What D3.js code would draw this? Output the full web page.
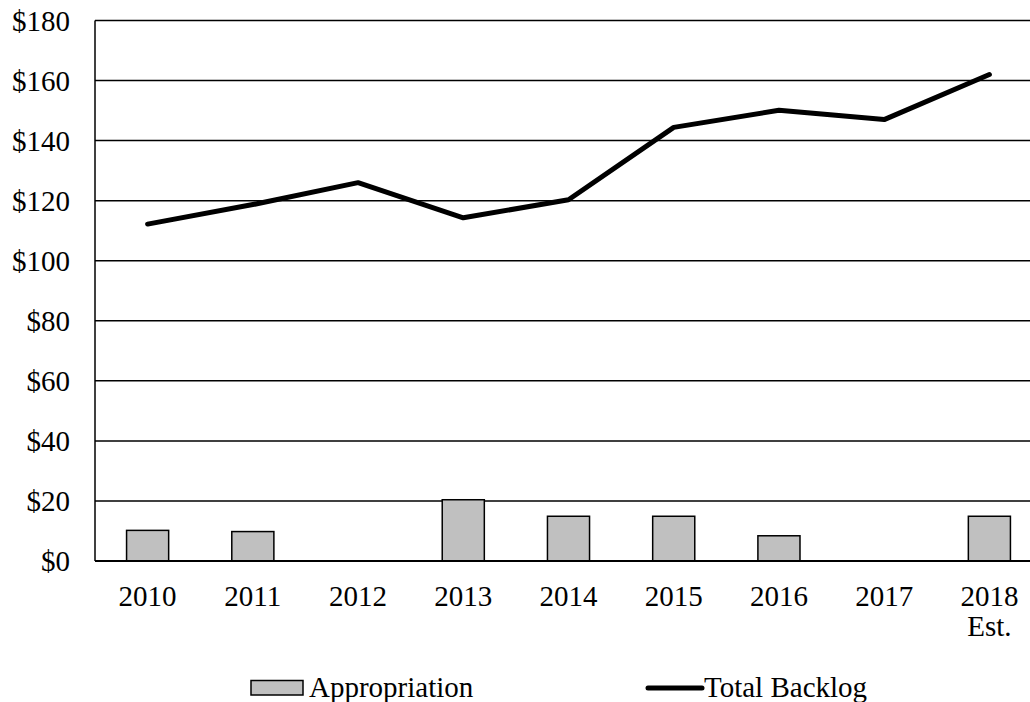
<!DOCTYPE html>
<html>
<head>
<meta charset="utf-8">
<script src="https://cdn.jsdelivr.net/npm/d3@7/dist/d3.min.js"></script>
<style>
  body { margin: 0; background: #fff; }
  text { font-family: "Liberation Serif", "Times New Roman", serif; fill: #000; }
</style>
</head>
<body>
<div id="chart"></div>
<script>
var years = ["2010", "2011", "2012", "2013", "2014", "2015", "2016", "2017", "2018"];
var yearNotes = ["", "", "", "", "", "", "", "", "Est."];
var appropriation = [10.2, 9.8, 0, 20.4, 14.9, 14.9, 8.4, 0, 14.9];
var backlog = [112.2, 118.7, 126, 114.3, 120.3, 144.4, 150.1, 147, 162];
var yTicks = [0, 20, 40, 60, 80, 100, 120, 140, 160, 180];

var width = 1030, height = 702;
var plotLeft = 95, plotRight = 1042, plotTop = 20.5, plotBottom = 561;

var svg = d3.select("#chart").append("svg")
    .attr("width", width)
    .attr("height", height);

var xc = d3.scaleBand().domain(years).range([plotLeft, plotRight]);

var y = d3.scaleLinear()
    .domain([0, 180])
    .range([plotBottom, plotTop]);

// gridlines
svg.append("g")
    .selectAll("line")
    .data(yTicks.filter(function(d) { return d > 0; }))
    .enter().append("line")
    .attr("x1", plotLeft).attr("x2", width)
    .attr("y1", function(d) { return y(d); })
    .attr("y2", function(d) { return y(d); })
    .attr("stroke", "#000")
    .attr("stroke-width", 1.5);

// y labels
svg.append("g")
    .selectAll("text")
    .data(yTicks)
    .enter().append("text")
    .attr("x", 70)
    .attr("y", function(d) { return y(d); })
    .attr("dy", "0.35em")
    .attr("text-anchor", "end")
    .style("font-size", "29px")
    .text(function(d) { return "$" + d; });

// bars
svg.append("g")
    .selectAll("rect")
    .data(years.map(function(d, i) { return { year: d, v: appropriation[i] }; })
        .filter(function(d) { return d.v > 0; }))
    .enter().append("rect")
    .attr("x", function(d) { return xc(d.year) + xc.bandwidth() * 0.3; })
    .attr("width", xc.bandwidth() * 0.4)
    .attr("y", function(d) { return y(d.v); })
    .attr("height", function(d) { return plotBottom - y(d.v); })
    .attr("fill", "#c0c0c0")
    .attr("stroke", "#000")
    .attr("stroke-width", 1.5);

// axes
svg.append("line")
    .attr("x1", plotLeft).attr("x2", plotLeft)
    .attr("y1", plotTop).attr("y2", plotBottom)
    .attr("stroke", "#000").attr("stroke-width", 1.5);
svg.append("line")
    .attr("x1", plotLeft).attr("x2", width)
    .attr("y1", plotBottom).attr("y2", plotBottom)
    .attr("stroke", "#000").attr("stroke-width", 2);

// x labels
var xl = svg.append("g")
    .selectAll("text")
    .data(years)
    .enter().append("text")
    .attr("x", function(d) { return xc(d) + xc.bandwidth() / 2; })
    .attr("y", 606)
    .attr("text-anchor", "middle")
    .style("font-size", "29px");
xl.append("tspan").text(function(d) { return d; });
xl.append("tspan")
    .attr("x", function(d) { return xc(d) + xc.bandwidth() / 2; })
    .attr("dy", 30)
    .text(function(d, i) { return yearNotes[i]; });

// backlog line
var line = d3.line()
    .x(function(d, i) { return xc(years[i]) + xc.bandwidth() / 2; })
    .y(function(d) { return y(d); });

svg.append("path")
    .datum(backlog)
    .attr("d", line)
    .attr("fill", "none")
    .attr("stroke", "#000")
    .attr("stroke-width", 5)
    .attr("stroke-linejoin", "round")
    .attr("stroke-linecap", "round");

// legend
var legend = svg.append("g");
legend.append("rect")
    .attr("x", 251).attr("y", 680.5)
    .attr("width", 52).attr("height", 14.5)
    .attr("fill", "#c0c0c0")
    .attr("stroke", "#000")
    .attr("stroke-width", 1.5);
legend.append("text")
    .attr("x", 309).attr("y", 697)
    .style("font-size", "29px")
    .text("Appropriation");
legend.append("line")
    .attr("x1", 648).attr("x2", 702)
    .attr("y1", 688).attr("y2", 688)
    .attr("stroke", "#000")
    .attr("stroke-width", 5)
    .attr("stroke-linecap", "round");
legend.append("text")
    .attr("x", 704).attr("y", 697)
    .style("font-size", "29px")
    .text("Total Backlog");
</script>
</body>
</html>
